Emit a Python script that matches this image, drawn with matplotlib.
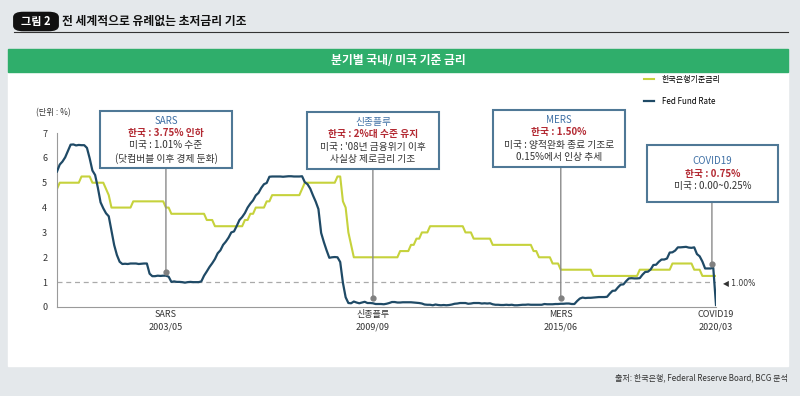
import numpy as np
import matplotlib
matplotlib.use('Agg')
import matplotlib.pyplot as plt
from matplotlib.patches import Rectangle, FancyBboxPatch

plt.rcParams['font.family'] = ['Noto Sans CJK KR', 'DejaVu Sans']

#%% data: monthly, 2000/01 ~ 2020/03
# 한국은행 기준금리 (%)
kor_rate = (
    [4.75, 5.0, 5.0, 5.0, 5.0, 5.0, 5.0, 5.0, 5.0, 5.25, 5.25, 5.25] +          # 2000
    [5.25, 5.0, 5.0, 5.0, 5.0, 5.0, 4.75, 4.5, 4.0, 4.0, 4.0, 4.0] +            # 2001
    [4.0, 4.0, 4.0, 4.0, 4.25, 4.25, 4.25, 4.25, 4.25, 4.25, 4.25, 4.25] +      # 2002
    [4.25, 4.25, 4.25, 4.25, 4.0, 4.0, 3.75, 3.75, 3.75, 3.75, 3.75, 3.75] +    # 2003
    [3.75, 3.75, 3.75, 3.75, 3.75, 3.75, 3.75, 3.5, 3.5, 3.5, 3.25, 3.25] +     # 2004
    [3.25, 3.25, 3.25, 3.25, 3.25, 3.25, 3.25, 3.25, 3.25, 3.5, 3.5, 3.75] +    # 2005
    [3.75, 4.0, 4.0, 4.0, 4.0, 4.25, 4.25, 4.5, 4.5, 4.5, 4.5, 4.5] +           # 2006
    [4.5, 4.5, 4.5, 4.5, 4.5, 4.5, 4.75, 5.0, 5.0, 5.0, 5.0, 5.0] +             # 2007
    [5.0, 5.0, 5.0, 5.0, 5.0, 5.0, 5.0, 5.25, 5.25, 4.25, 4.0, 3.0] +           # 2008
    [2.5, 2.0, 2.0, 2.0, 2.0, 2.0, 2.0, 2.0, 2.0, 2.0, 2.0, 2.0] +              # 2009
    [2.0, 2.0, 2.0, 2.0, 2.0, 2.0, 2.25, 2.25, 2.25, 2.25, 2.5, 2.5] +          # 2010
    [2.75, 2.75, 3.0, 3.0, 3.0, 3.25, 3.25, 3.25, 3.25, 3.25, 3.25, 3.25] +     # 2011
    [3.25, 3.25, 3.25, 3.25, 3.25, 3.25, 3.0, 3.0, 3.0, 2.75, 2.75, 2.75] +     # 2012
    [2.75, 2.75, 2.75, 2.75, 2.5, 2.5, 2.5, 2.5, 2.5, 2.5, 2.5, 2.5] +          # 2013
    [2.5, 2.5, 2.5, 2.5, 2.5, 2.5, 2.5, 2.25, 2.25, 2.0, 2.0, 2.0] +            # 2014
    [2.0, 2.0, 1.75, 1.75, 1.75, 1.5, 1.5, 1.5, 1.5, 1.5, 1.5, 1.5] +           # 2015
    [1.5, 1.5, 1.5, 1.5, 1.5, 1.25, 1.25, 1.25, 1.25, 1.25, 1.25, 1.25] +       # 2016
    [1.25, 1.25, 1.25, 1.25, 1.25, 1.25, 1.25, 1.25, 1.25, 1.25, 1.5, 1.5] +    # 2017
    [1.5, 1.5, 1.5, 1.5, 1.5, 1.5, 1.5, 1.5, 1.5, 1.5, 1.75, 1.75] +            # 2018
    [1.75, 1.75, 1.75, 1.75, 1.75, 1.75, 1.5, 1.5, 1.5, 1.25, 1.25, 1.25] +     # 2019
    [1.25, 1.25, 1.25]                                                           # 2020
)

# Fed Fund Rate (%)
fed_rate = (
    [5.45, 5.73, 5.85, 6.02, 6.27, 6.53, 6.54, 6.50, 6.52, 6.51, 6.51, 6.40] +
    [5.98, 5.49, 5.31, 4.80, 4.21, 3.97, 3.77, 3.65, 3.07, 2.49, 2.09, 1.82] +
    [1.73, 1.74, 1.73, 1.75, 1.75, 1.75, 1.73, 1.74, 1.75, 1.75, 1.34, 1.24] +
    [1.24, 1.26, 1.25, 1.26, 1.26, 1.22, 1.01, 1.03, 1.01, 1.01, 1.00, 0.98] +
    [1.00, 1.01, 1.00, 1.00, 1.00, 1.03, 1.26, 1.43, 1.61, 1.76, 1.93, 2.16] +
    [2.28, 2.50, 2.63, 2.79, 3.00, 3.04, 3.26, 3.50, 3.62, 3.78, 4.00, 4.16] +
    [4.29, 4.49, 4.59, 4.79, 4.94, 4.99, 5.24, 5.25, 5.25, 5.25, 5.25, 5.24] +
    [5.25, 5.26, 5.26, 5.25, 5.25, 5.25, 5.26, 5.02, 4.94, 4.76, 4.49, 4.24] +
    [3.94, 2.98, 2.61, 2.28, 1.98, 2.00, 2.01, 2.00, 1.81, 0.97, 0.39, 0.16] +
    [0.15, 0.22, 0.18, 0.15, 0.18, 0.21, 0.16, 0.16, 0.15, 0.12, 0.12, 0.12] +
    [0.11, 0.13, 0.16, 0.20, 0.20, 0.18, 0.18, 0.19, 0.19, 0.19, 0.19, 0.18] +
    [0.17, 0.16, 0.14, 0.10, 0.09, 0.09, 0.07, 0.10, 0.08, 0.07, 0.08, 0.07] +
    [0.08, 0.10, 0.13, 0.14, 0.16, 0.16, 0.16, 0.13, 0.14, 0.16, 0.16, 0.16] +
    [0.14, 0.15, 0.14, 0.15, 0.11, 0.09, 0.09, 0.08, 0.08, 0.09, 0.08, 0.09] +
    [0.07, 0.07, 0.08, 0.09, 0.09, 0.10, 0.09, 0.09, 0.09, 0.09, 0.09, 0.12] +
    [0.11, 0.11, 0.11, 0.12, 0.12, 0.13, 0.13, 0.14, 0.14, 0.12, 0.12, 0.24] +
    [0.34, 0.38, 0.36, 0.37, 0.37, 0.38, 0.39, 0.40, 0.40, 0.40, 0.41, 0.54] +
    [0.65, 0.66, 0.79, 0.90, 0.91, 1.04, 1.15, 1.16, 1.15, 1.15, 1.16, 1.30] +
    [1.41, 1.42, 1.51, 1.69, 1.70, 1.82, 1.91, 1.91, 1.95, 2.19, 2.20, 2.27] +
    [2.40, 2.40, 2.41, 2.42, 2.39, 2.38, 2.40, 2.13, 2.04, 1.83, 1.55, 1.55] +
    [1.55, 1.58, 0.08]
)

months = np.arange(len(fed_rate))

# x tick (month index from 2000/01)
tick_pos = [40, 116, 185, 242]
tick_labels = ['SARS\n2003/05', '신종플루\n2009/09', 'MERS\n2015/06', 'COVID19\n2020/03']

# event boxes: title, 한국, 미국 lines, month, dot value
event_titles = ['SARS', '신종플루', 'MERS', 'COVID19']
event_kor = ['한국 : 3.75% 인하', '한국 : 2%대 수준 유지', '한국 : 1.50%', '한국 : 0.75%']
event_us = ['미국 : 1.01% 수준\n(닷컴버블 이후 경제 둔화)',
            "미국 : '08년 금융위기 이후\n사실상 제로금리 기조",
            '미국 : 양적완화 종료 기조로\n0.15%에서 인상 추세',
            '미국 : 0.00~0.25%']
event_month = [40, 116, 185, 240.5]
event_dot = [1.4, 0.36, 0.36, 1.72]

# box positions in pixels (left, top, right, bottom)
boxes = [(100, 111, 232, 168), (307, 112, 439, 169),
         (493, 110, 625, 167), (647, 145, 778, 202)]

#%% figure
W, H = 800, 396
def fx(x):
    return x / W
def fy(y):
    return 1 - y / H

c_kor = '#c6d23c'
c_fed = '#1f4a66'
c_box = '#4f7896'
c_blue = '#3f70a5'
c_red = '#b32a33'
c_txt = '#333333'

fig = plt.figure(figsize=(8, 3.96), dpi=100, facecolor='#e4e8eb')

# white panel + green header
fig.patches.append(Rectangle((fx(8), fy(366)), 780 / W, 294 / H,
                             transform=fig.transFigure, color='white', zorder=-3))
fig.patches.append(Rectangle((fx(8), fy(72)), 780 / W, 23 / H,
                             transform=fig.transFigure, color='#2fae6b', zorder=-2))
fig.text(fx(398), fy(60.5), '분기별 국내/ 미국 기준 금리', color='white',
         fontsize=8.5, fontweight='bold', ha='center', va='center')

# figure title
fig.patches.append(FancyBboxPatch((fx(17), fy(29)), 38 / W, 15 / H,
                                  boxstyle='round,pad=0.004,rounding_size=0.012',
                                  transform=fig.transFigure, color='#111111', zorder=-2))
fig.text(fx(36), fy(21.5), '그림 2', color='white', fontsize=8,
         fontweight='bold', ha='center', va='center')
fig.text(fx(62), fy(21.5), '전 세계적으로 유례없는 초저금리 기조', color='#111111',
         fontsize=8.5, fontweight='bold', ha='left', va='center')
fig.add_artist(plt.Line2D([fx(14), fx(788)], [fy(32), fy(32)],
                          transform=fig.transFigure, color='#333333', lw=0.8))

# source
fig.text(fx(788), fy(378), '출처: 한국은행, Federal Reserve Board, BCG 분석',
         color=c_txt, fontsize=5.8, ha='right', va='center')
fig.text(fx(36), fy(113), '(단위 : %)', fontsize=6, color=c_txt,
         ha='left', va='center')

#%% axes
ax = fig.add_axes([fx(57), fy(307), (716 - 57) / W, (307 - 133) / H])
ax.set_facecolor('none')
ax.set_zorder(1)

ax.axhline(1.0, color='#aaaaaa', lw=0.9, ls=(0, (4, 3)), zorder=1)
ax.plot(months, kor_rate, color=c_kor, lw=1.5, label='한국은행기준금리', zorder=2)
ax.plot(months, fed_rate, color=c_fed, lw=1.6, label='Fed Fund Rate', zorder=3)

ax.set_xlim(0, 242)
ax.set_ylim(0, 7)
ax.set_yticks(range(0, 8))
ax.set_xticks(tick_pos)
ax.set_xticklabels(tick_labels, fontsize=6.5, color=c_txt, linespacing=1.6)
ax.tick_params(axis='y', length=0, pad=7, labelsize=6.5, labelcolor=c_txt)
ax.tick_params(axis='x', length=0, pad=2)
for s in ['top', 'right']:
    ax.spines[s].set_visible(False)
for s in ['left', 'bottom']:
    ax.spines[s].set_color('#9a9a9a')
    ax.spines[s].set_linewidth(0.8)

ax.text(1.01, 1.0, '◀ 1.00%', transform=ax.get_yaxis_transform(), fontsize=5.5,
        color=c_txt, ha='left', va='center', family=['DejaVu Sans'])

leg = ax.legend(loc='upper left', bbox_to_anchor=(fx(644), fy(75)),
                bbox_transform=fig.transFigure, frameon=False, fontsize=5.8,
                handlelength=1.3, handletextpad=0.9, labelspacing=1.6,
                borderpad=0, borderaxespad=0)

# event boxes and connectors
for i in range(len(event_titles)):
    l, t, r, b = boxes[i]
    fig.patches.append(Rectangle((fx(l), fy(b)), (r - l) / W, (b - t) / H,
                                 transform=fig.transFigure, facecolor='white',
                                 edgecolor=c_box, lw=1.5, zorder=5))
    cx = (l + r) / 2
    n_us = event_us[i].count('\n') + 1
    y0 = (t + b) / 2 - (2 + n_us) * 12.5 / 2 + 6.25
    fig.text(fx(cx), fy(y0), event_titles[i], color=c_blue, fontsize=7,
             ha='center', va='center', zorder=6)
    fig.text(fx(cx), fy(y0 + 12.5), event_kor[i], color=c_red, fontsize=7,
             fontweight='bold', ha='center', va='center', zorder=6)
    fig.text(fx(cx), fy(y0 + 25 + (n_us - 1) * 6.25), event_us[i], color=c_txt,
             fontsize=7, ha='center', va='center', linespacing=1.25, zorder=6)
    ax.annotate('', xy=(event_month[i], event_dot[i]), xycoords='data',
                xytext=(event_month[i], fy(b)), textcoords=('data', 'figure fraction'),
                arrowprops=dict(arrowstyle='-', color='#8a8a8a', lw=1.0,
                                shrinkA=0, shrinkB=0), zorder=4)
    ax.plot(event_month[i], event_dot[i], 'o', color='#808080', ms=3.5, zorder=4)

plt.savefig('out.png', dpi=100, facecolor=fig.get_facecolor())
